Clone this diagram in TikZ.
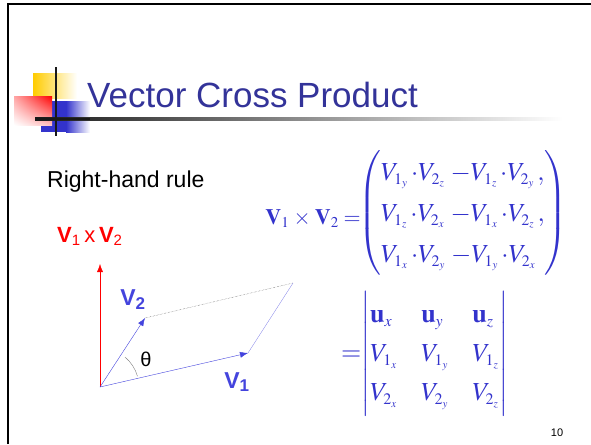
\documentclass[tikz,border=0pt]{standalone}
\usepackage{mathptmx}
\usepackage[no-math]{fontspec}
\setmainfont{Liberation Sans}
\usetikzlibrary{arrows.meta,shadings}
\DeclareMathSizes{22}{22}{15}{11}
\DeclareMathSizes{26}{26}{16}{11}
\definecolor{titleblue}{RGB}{51,51,153}
\definecolor{mathblue}{RGB}{51,51,204}
\definecolor{vecblue}{RGB}{68,68,221}
\definecolor{logoyellow}{RGB}{255,204,0}
\definecolor{logoblue}{RGB}{51,51,204}
\newcommand{\dotm}{\,{\cdot}}
\newcommand{\minm}{\;{-}}
\tikzset{
  vec/.style={vecblue,-{Latex[length=8pt,width=6pt]}},
  veclbl/.style={vecblue,font=\fontsize{23}{27}\bfseries\selectfont},
  mathtext/.style={mathblue,font=\fontsize{22}{26}\selectfont,inner sep=0pt},
  mathbig/.style={mathblue,font=\fontsize{26}{30}\selectfont,inner sep=0pt},
}
\begin{document}
\begin{tikzpicture}[x=1pt,y=-1pt]
\useasboundingbox (0,0) rectangle (591,444);
\draw[line width=2.5pt] (8,444) -- (8,4) -- (591,4);

\shade[left color=logoyellow,right color=white] (33,73) rectangle (77,98);
\fill[logoblue] (41,101) rectangle (66,132);
\shade[left color=logoblue,right color=white] (66,101) rectangle (90,132);
\shade[upper right=red,upper left=red!35,lower left=white,lower right=red!25] (14,96) rectangle (52,125);
\shade[left color=black!90,right color=white] (35,117.8) rectangle (563,120.2);
\fill[black!90] (35,117.8) rectangle (90,120.2);
\fill[black!90] (54.8,67) rectangle (57.2,136);
\node[titleblue,anchor=base west,inner sep=0pt,font=\fontsize{35}{40}\selectfont] (title) at (87,107) {Vector Cross Product};

\node[anchor=base west,inner sep=0pt,font=\fontsize{23}{27}\selectfont] (rule) at (47,187) {Right-hand rule};
\node[red,anchor=base west,inner sep=0pt,font=\fontsize{22}{26}\selectfont] (crosslbl) at (57,242) {\textbf{V}\textsubscript{1}\,x\,\textbf{V}\textsubscript{2}};

\coordinate (O) at (100,387);
\coordinate (v1) at (248,353);
\coordinate (v2) at (145,318);
\coordinate (far) at (293,283);
\coordinate (z) at (100,264);
\draw[red,-{Latex[length=8pt,width=6pt]}] (O) -- (z);
\draw[vec] (O) -- (v1);
\draw[vec] (O) -- (v2);
\draw[black!70,densely dotted] (v2) -- (far);
\draw[vecblue!70,line width=0.3pt] (v1) -- (far);
\draw[gray,line width=0.4pt] (O) ++(16:39pt) arc[start angle=16,end angle=50,radius=39pt];
\node[font=\fontsize{20}{24}\selectfont] (theta) at (146,359) {θ};
\node[veclbl] (v2lbl) at (133,300) {V\textsubscript{2}};
\node[veclbl] (v1lbl) at (237,382) {V\textsubscript{1}};

\node[mathtext,anchor=base east] (cross) at (361,224) {$\mathbf{V}_1\mkern1mu\times\mkern1mu\mathbf{V}_2=$};
\node[mathbig,anchor=west] (comps) at (358,213) {\def\arraystretch{1.37}$\left(\begin{array}{@{}l@{}}
V_{1_y}\dotm V_{2_z}\minm V_{1_z}\dotm V_{2_y}\,,\\
V_{1_z}\dotm V_{2_x}\minm V_{1_x}\dotm V_{2_z}\,,\\
V_{1_x}\dotm V_{2_y}\minm V_{1_y}\dotm V_{2_x}
\end{array}\right)$};
\node[mathbig,anchor=west] (det) at (341,354) {\def\arraystretch{1.3}\setlength\arraycolsep{12pt}$=\mkern-4mu\left|\begin{array}{@{}lll@{}}
\mathbf{u}_x & \mathbf{u}_y & \mathbf{u}_z\\
V_{1_x} & V_{1_y} & V_{1_z}\\
V_{2_x} & V_{2_y} & V_{2_z}
\end{array}\right|$};

\node[font=\fontsize{11}{13}\selectfont] (page) at (557,433) {10};
\end{tikzpicture}
\end{document}
